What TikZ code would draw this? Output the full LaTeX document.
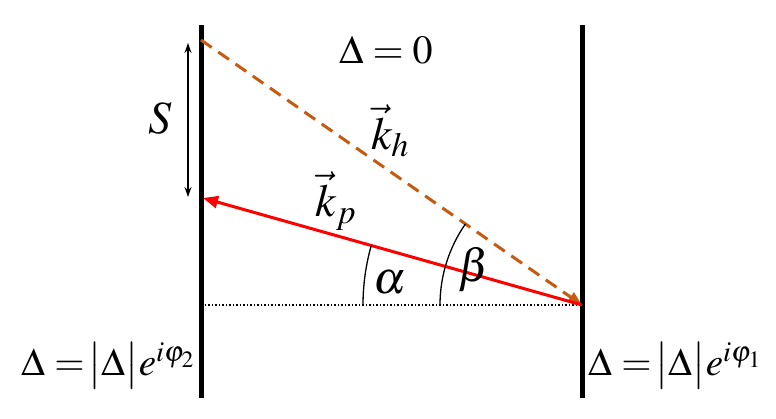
\documentclass[tikz,border=0pt]{standalone}
\usepackage{mathptmx}
\usetikzlibrary{arrows.meta}
\definecolor{korange}{RGB}{197,90,17}
\definecolor{kred}{RGB}{255,0,0}
\tikzset{
  wall/.style={line width=5pt},
  lbl/.style={inner sep=0pt,font=\fontsize{40}{48}\selectfont},
  biglbl/.style={inner sep=0pt,font=\fontsize{46}{54}\selectfont},
  eqlbl/.style={inner sep=0pt,font=\fontsize{39}{46}\selectfont},
  anglearc/.style={line width=1.3pt},
}
\begin{document}
\begin{tikzpicture}[x=1pt,y=-1pt]
\useasboundingbox (0,0) rectangle (776,419);
% walls
\coordinate (LT) at (201,25); \coordinate (LB) at (201,398);
\coordinate (RT) at (582,25); \coordinate (RB) at (582,398);
\draw[wall] (LT) -- (LB);
\draw[wall] (RT) -- (RB);
% points
\coordinate (A) at (201,40);
\coordinate (B) at (582,305);
\coordinate (C) at (203,198);
\coordinate (D) at (201,305);
\coordinate (S1) at (188,43);
\coordinate (S2) at (188,197);
% dotted baseline
\draw[line width=1.5pt, dotted] (D) -- (B);
% dashed k_h
\draw[korange, line width=3pt, dash pattern=on 13pt off 8pt, -{Triangle[length=14pt,width=11pt]}] (A) -- (B);
% red k_p
\draw[kred, line width=3pt, -{Triangle[length=15pt,width=12pt]}] (B) -- (C);
% S arrow
\draw[line width=1.5pt, {Stealth[length=10pt,width=7pt]}-{Stealth[length=10pt,width=7pt]}] (S1) -- (S2);
% angle arcs
\draw[anglearc] ([shift={(180:219)}]B) arc[start angle=180,end angle=195.8,radius=219];
\draw[anglearc] ([shift={(180:142)}]B) arc[start angle=180,end angle=214.8,radius=142];
% labels
\node[biglbl] (S) at (160,118) {$S$};
\node[lbl] (D0) at (386,50) {$\Delta=0$};
\node[biglbl] (kh) at (390,131) {$\vec{k}_h$};
\node[biglbl] (kp) at (336,201) {$\vec{k}_p$};
\node[biglbl] (al) at (390,283) {$\alpha$};
\node[biglbl] (be) at (474,270) {$\beta$};
\node[eqlbl] (EL) at (108,366) {$\Delta=\!\bigl|\Delta\bigr|e^{i\varphi_2}$};
\node[eqlbl] (ER) at (675,366) {$\Delta=\!\bigl|\Delta\bigr|e^{i\varphi_1}$};
\end{tikzpicture}
\end{document}
